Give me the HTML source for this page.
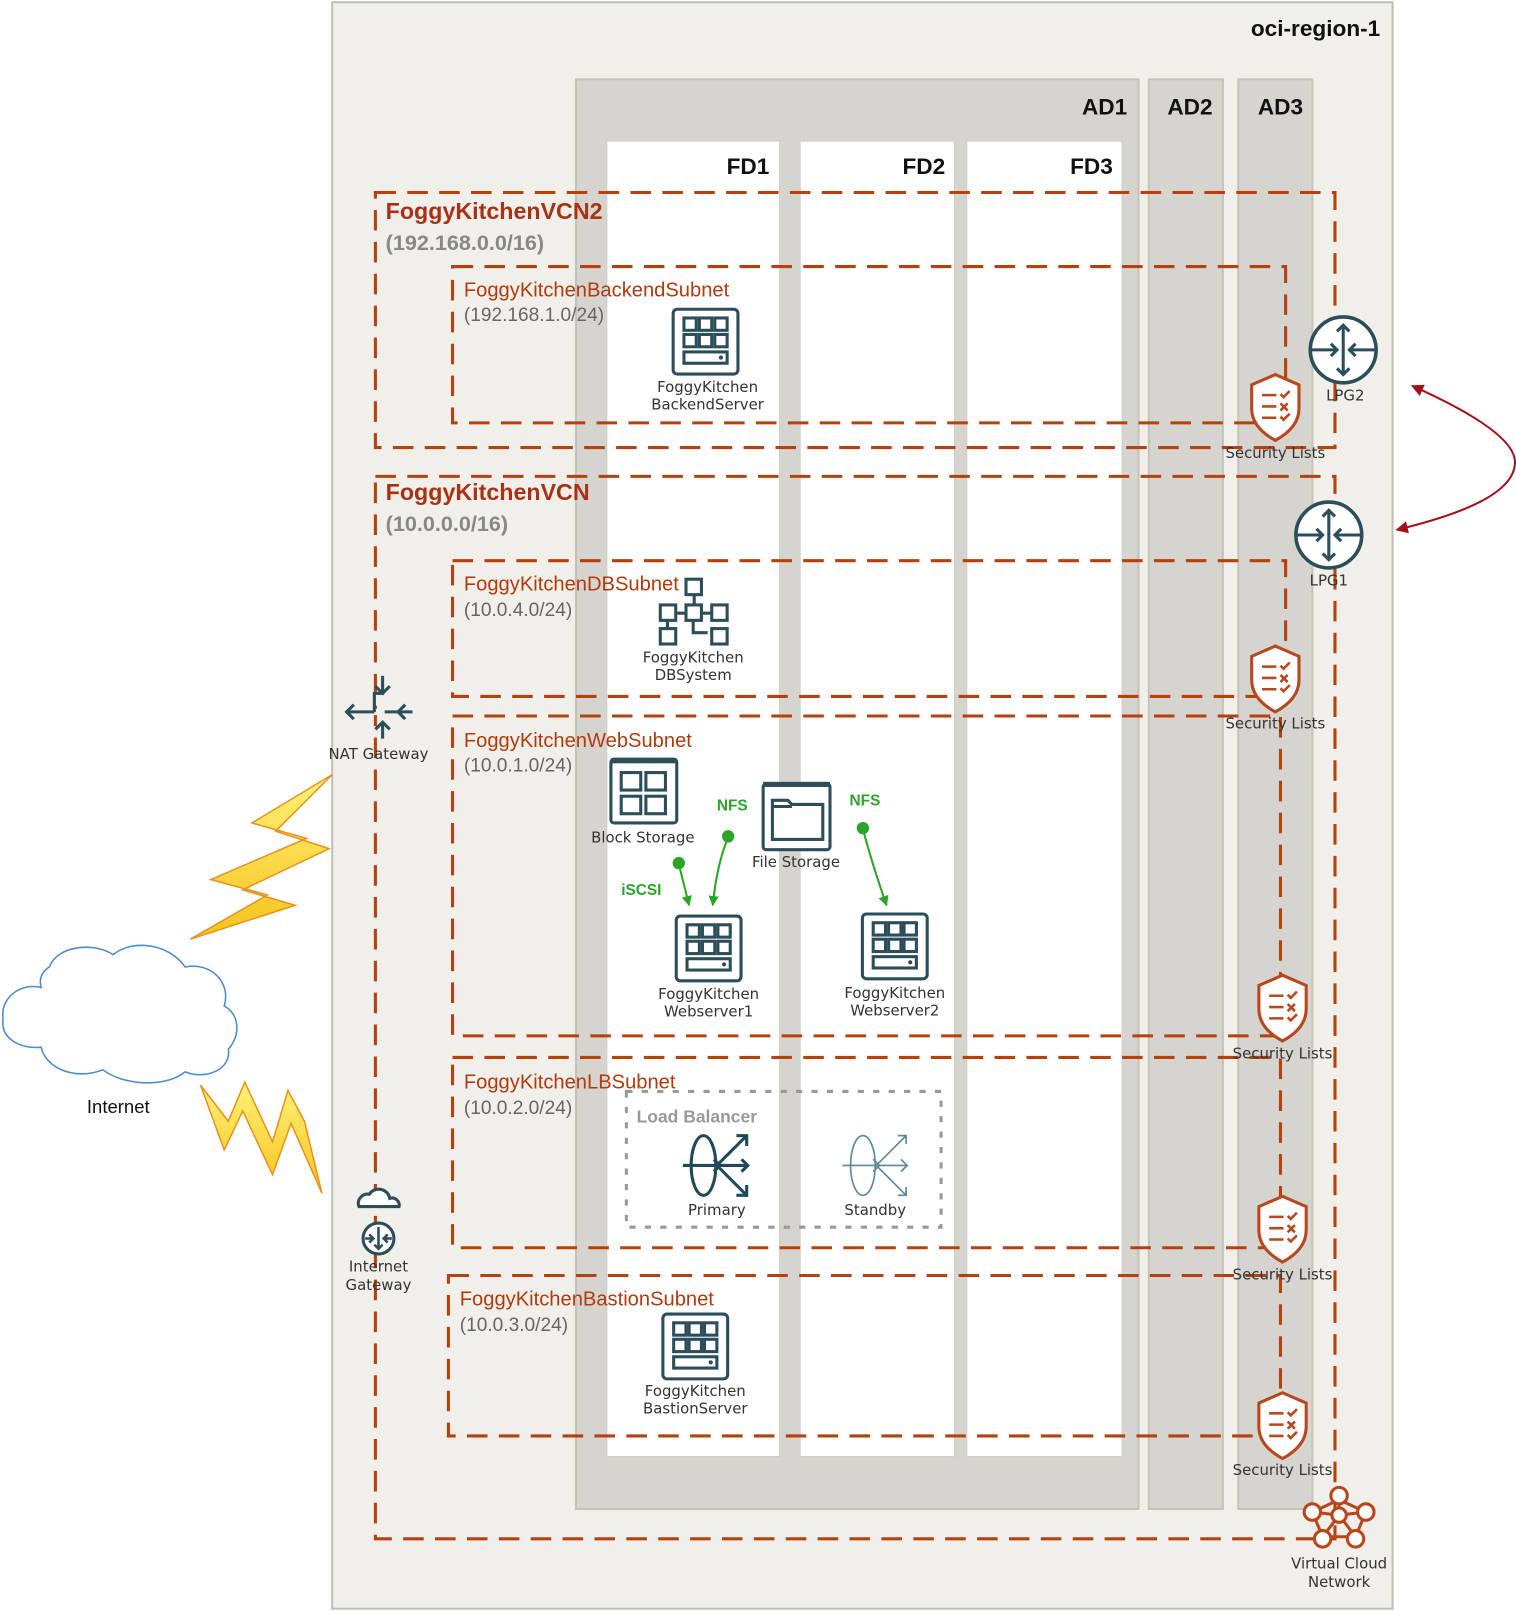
<!DOCTYPE html>
<html><head><meta charset="utf-8"><style>
html,body{margin:0;padding:0;background:#fff;}
svg{display:block;}
text{font-family:"Liberation Sans","DejaVu Sans",sans-serif;}
.lbl{font-family:"DejaVu Sans","Liberation Sans",sans-serif;font-size:14.5px;fill:#333;text-anchor:middle;}
.sub{font-size:19.6px;fill:#b33a0e;}
.cidr{font-size:18.6px;fill:#666;}
.vcn{font-size:22.6px;font-weight:bold;fill:#a93216;}
.vcnc{font-size:21px;font-weight:bold;fill:#888;}
.hd{font-size:22px;font-weight:bold;fill:#111;text-anchor:end;}
.dash{fill:none;stroke:#b5410f;stroke-width:3;stroke-dasharray:20 11;}
.grn{font-size:15px;font-weight:bold;fill:#2aa52a;}
</style></head><body>
<svg width="1516" height="1612" viewBox="0 0 1474 1567" xmlns="http://www.w3.org/2000/svg">
<defs>
<g id="srv">
<rect x="1.5" y="1.5" width="63" height="63" rx="4" fill="#fff" stroke="#2c4e5b" stroke-width="3"/>
<g fill="none" stroke="#2c4e5b" stroke-width="3">
<rect x="12" y="10" width="12" height="12"/><rect x="27" y="10" width="12" height="12"/><rect x="42" y="10" width="12" height="12"/>
<rect x="12" y="26" width="12" height="12"/><rect x="27" y="26" width="12" height="12"/><rect x="42" y="26" width="12" height="12"/>
<rect x="12" y="43" width="42" height="11"/></g>
<circle cx="48" cy="48.5" r="2" fill="#2c4e5b"/>
</g>
<g id="shield">
<path d="M25 2 L48 12 V35 C48 50 36 60 25 66 C14 60 2 50 2 35 V12 Z" fill="#fff" stroke="#b8471e" stroke-width="3"/>
<g stroke="#b8471e" stroke-width="2.5" fill="none">
<path d="M12 22h14M12 33h14M12 44h14"/>
<path d="M30 21l3 3 6-6M30 30l7 7M37 30l-7 7M30 43l3 3 6-6"/></g>
</g>
<g id="rtr">
<circle cx="0" cy="0" r="32" fill="#fff" stroke="#2c4e5b" stroke-width="3.5"/>
<g stroke="#2c4e5b" stroke-width="3" fill="none">
<path d="M-32 0h26M-12 -6l6 6-6 6M32 0h-26M12 -6l-6 6 6 6M0 -24v48M-6 -18l6-6 6 6M-6 18l6 6 6-6"/></g>
</g>
<marker id="ar" viewBox="0 0 10 10" refX="9" refY="5" markerWidth="6" markerHeight="6" orient="auto-start-reverse"><path d="M0 0L10 5L0 10z" fill="#a3101a"/></marker>
<marker id="ag" viewBox="0 0 10 10" refX="9" refY="5" markerWidth="5" markerHeight="6" orient="auto"><path d="M0 0L10 5L0 10z" fill="#2aa52a"/></marker>
<linearGradient id="ly" x1="0" y1="0" x2="0" y2="1"><stop offset="0" stop-color="#fff27a"/><stop offset="1" stop-color="#f6c21a"/></linearGradient>
</defs>

<rect x="323" y="2" width="1031" height="1562" fill="#f0efea" stroke="#c2beb7" stroke-width="2"/>
<text x="1342" y="35" class="hd">oci-region-1</text>
<rect x="560" y="77" width="547" height="1390" fill="#d6d4cf" stroke="#c6c2bb" stroke-width="2"/>
<rect x="1117" y="77" width="72" height="1390" fill="#d6d4cf" stroke="#c6c2bb" stroke-width="2"/>
<rect x="1204" y="77" width="72" height="1390" fill="#d6d4cf" stroke="#c6c2bb" stroke-width="2"/>
<text x="1096" y="111" class="hd">AD1</text>
<text x="1179" y="111" class="hd">AD2</text>
<text x="1267" y="111" class="hd">AD3</text>
<rect x="590" y="137" width="168" height="1279" fill="#fff" stroke="#d0cdc7"/>
<rect x="778" y="137" width="150" height="1279" fill="#fff" stroke="#d0cdc7"/>
<rect x="940" y="137" width="151" height="1279" fill="#fff" stroke="#d0cdc7"/>
<text x="748" y="169" class="hd">FD1</text>
<text x="919" y="169" class="hd">FD2</text>
<text x="1082" y="169" class="hd">FD3</text>

<rect x="365" y="187" width="933" height="248" class="dash"/>
<text x="375" y="213" class="vcn">FoggyKitchenVCN2</text>
<text x="375" y="243" class="vcnc">(192.168.0.0/16)</text>
<rect x="440" y="259" width="810" height="152" class="dash"/>
<text x="451" y="288" class="sub">FoggyKitchenBackendSubnet</text>
<text x="451" y="312" class="cidr">(192.168.1.0/24)</text>
<use href="#srv" x="653" y="299"/>
<text x="688" y="381" class="lbl">FoggyKitchen</text>
<text x="688" y="398" class="lbl">BackendServer</text>

<rect x="365" y="463" width="933" height="1033" class="dash"/>
<text x="375" y="486" class="vcn">FoggyKitchenVCN</text>
<text x="375" y="516" class="vcnc">(10.0.0.0/16)</text>

<rect x="440" y="545" width="810" height="132" class="dash"/>
<text x="451" y="574" class="sub">FoggyKitchenDBSubnet</text>
<text x="451" y="599" class="cidr">(10.0.4.0/24)</text>
<g stroke="#2c4e5b" stroke-width="3" fill="#fff">
<path d="M675 578v10M650 596h50" fill="none"/>
<path d="M649 603v8M674 603v12h14" fill="none"/>
<rect x="667" y="563" width="15" height="15"/>
<rect x="642" y="588" width="15" height="15"/>
<rect x="667" y="588" width="15" height="15"/>
<rect x="692" y="588" width="15" height="15"/>
<rect x="642" y="611" width="15" height="15"/>
<rect x="692" y="611" width="15" height="15"/>
</g>
<text x="674" y="644" class="lbl">FoggyKitchen</text>
<text x="674" y="661" class="lbl">DBSystem</text>

<rect x="440" y="696" width="805" height="311" class="dash"/>
<text x="451" y="726" class="sub">FoggyKitchenWebSubnet</text>
<text x="451" y="750" class="cidr">(10.0.1.0/24)</text>
<rect x="594" y="738" width="64" height="62" rx="3" fill="#fff" stroke="#2c4e5b" stroke-width="3"/>
<rect x="594" y="737" width="64" height="5" fill="#2c4e5b"/>
<g fill="none" stroke="#2c4e5b" stroke-width="3"><rect x="604" y="751" width="19" height="17"/><rect x="628" y="751" width="19" height="17"/><rect x="604" y="774" width="19" height="17"/><rect x="628" y="774" width="19" height="17"/></g>
<text x="625" y="819" class="lbl">Block Storage</text>
<rect x="742" y="762" width="65" height="64" rx="3" fill="#fff" stroke="#2c4e5b" stroke-width="3"/>
<rect x="742" y="760" width="65" height="5" fill="#2c4e5b"/>
<path d="M751 778h15l4 4h30v34h-49z M751 784h19" fill="none" stroke="#2c4e5b" stroke-width="3"/>
<text x="774" y="843" class="lbl">File Storage</text>
<text x="697" y="788" class="grn">NFS</text>
<text x="826" y="783" class="grn">NFS</text>
<text x="604" y="870" class="grn">iSCSI</text>
<g stroke="#2aa52a" stroke-width="2" fill="none">
<path d="M660 840 L670 880" marker-end="url(#ag)"/>
<path d="M708 814 Q697 840 693 880" marker-end="url(#ag)"/>
<path d="M839 806 Q848 840 862 880" marker-end="url(#ag)"/>
</g>
<g fill="#2aa52a"><circle cx="660" cy="839" r="6"/><circle cx="708" cy="813" r="6"/><circle cx="839" cy="805" r="6"/></g>
<use href="#srv" x="656" y="889"/>
<text x="689" y="971" class="lbl">FoggyKitchen</text>
<text x="689" y="988" class="lbl">Webserver1</text>
<use href="#srv" x="837" y="887"/>
<text x="870" y="970" class="lbl">FoggyKitchen</text>
<text x="870" y="987" class="lbl">Webserver2</text>

<rect x="440" y="1028" width="805" height="185" class="dash"/>
<text x="451" y="1058" class="sub">FoggyKitchenLBSubnet</text>
<text x="451" y="1083" class="cidr">(10.0.2.0/24)</text>
<rect x="609" y="1061" width="306" height="132" fill="none" stroke="#999" stroke-width="3" stroke-dasharray="6 9"/>
<text x="619" y="1091" style="font-size:17px;font-weight:bold;fill:#999">Load Balancer</text>
<g stroke="#1f4a5a" stroke-width="3" fill="none">
<ellipse cx="684" cy="1133" rx="12" ry="29"/>
<path d="M664 1133h36M694 1127l6 6-6 6M697 1133h30M721 1127l6 6-6 6M697 1133l29-29M716 1104h10v10M697 1133l29 29M716 1162h10v-10"/>
</g>
<g stroke="#5a8a98" stroke-width="1.6" fill="none">
<ellipse cx="839" cy="1133" rx="12" ry="29"/>
<path d="M819 1133h36M849 1127l6 6-6 6M852 1133h30M876 1127l6 6-6 6M852 1133l29-29M873 1104h8v8M852 1133l29 29M873 1162h8v-8"/>
</g>
<text x="697" y="1181" class="lbl">Primary</text>
<text x="851" y="1181" class="lbl">Standby</text>

<rect x="436" y="1240" width="809" height="156" class="dash"/>
<text x="447" y="1269" class="sub">FoggyKitchenBastionSubnet</text>
<text x="447" y="1294" class="cidr">(10.0.3.0/24)</text>
<use href="#srv" x="643" y="1276"/>
<text x="676" y="1357" class="lbl">FoggyKitchen</text>
<text x="676" y="1374" class="lbl">BastionServer</text>

<use href="#shield" x="1215" y="362"/><text x="1240" y="445" class="lbl">Security Lists</text>
<use href="#shield" x="1215" y="626"/><text x="1240" y="708" class="lbl">Security Lists</text>
<use href="#shield" x="1222" y="946"/><text x="1247" y="1029" class="lbl">Security Lists</text>
<use href="#shield" x="1222" y="1161"/><text x="1247" y="1244" class="lbl">Security Lists</text>
<use href="#shield" x="1222" y="1352"/><text x="1247" y="1434" class="lbl">Security Lists</text>

<use href="#rtr" x="1306" y="340"/><text x="1308" y="389" class="lbl">LPG2</text>
<use href="#rtr" x="1292" y="520"/><text x="1292" y="569" class="lbl">LPG1</text>
<path d="M1373 375 C1440 405 1474 430 1473 450 C1472 480 1420 500 1358 515" fill="none" stroke="#a3101a" stroke-width="2" marker-start="url(#ar)" marker-end="url(#ar)"/>

<g stroke="#f0efea" stroke-width="6" fill="none"><path d="M337 692h64M372 658v52"/></g>
<g stroke="#2c4e5b" stroke-width="3" fill="none">
<path d="M337 692h27M344 685l-7 7 7 7M401 692h-27M394 685l-7 7 7 7M372 702v16M365 709l7-7 7 7M372 657v17h-8v18M365 667l7 7 7-7"/>
</g>
<text x="368" y="738" class="lbl">NAT Gateway</text>
<path d="M349 1173 a9 9 0 0 1 10 -12 a11 11 0 0 1 20 4 a7 7 0 0 1 9 8 z" fill="#fff" stroke="#2c4e5b" stroke-width="3"/>
<circle cx="368" cy="1204" r="15" fill="#fff" stroke="#2c4e5b" stroke-width="3"/>
<path d="M355 1204h8M359 1200l4 4-4 4M381 1204h-8M377 1200l-4 4 4 4M368 1193v21M364 1210l4 4 4-4" fill="none" stroke="#2c4e5b" stroke-width="2.5"/>
<text x="368" y="1236" class="lbl">Internet</text>
<text x="368" y="1254" class="lbl">Gateway</text>

<g stroke="#b8471e" stroke-width="3" fill="#fff">
<path d="M1302 1458 L1328 1470 L1318 1494 L1286 1494 L1276 1470 Z M1302 1458V1473M1328 1470L1302 1473M1276 1470L1302 1473M1318 1494L1302 1473M1286 1494L1302 1473" fill="none"/>
<circle cx="1302" cy="1454" r="8"/><circle cx="1328" cy="1470" r="8"/><circle cx="1276" cy="1470" r="8"/>
<circle cx="1318" cy="1496" r="8"/><circle cx="1286" cy="1496" r="8"/><circle cx="1302" cy="1473" r="7"/>
</g>
<text x="1302" y="1525" class="lbl">Virtual Cloud</text>
<text x="1302" y="1543" class="lbl">Network</text>

<path d="M40 960 C20 955 0 970 3 990 C0 1010 20 1020 40 1018 C45 1040 75 1050 100 1040 C120 1055 160 1058 180 1042 C200 1050 225 1040 222 1020 C235 1005 232 985 218 978 C225 955 205 935 180 940 C165 918 130 912 110 928 C90 915 55 920 48 940 C40 945 38 952 40 960 Z" fill="#fff" stroke="#4a8ad0" stroke-width="1.5"/>
<text x="115" y="1082" style="font-size:18px;fill:#111;text-anchor:middle">Internet</text>
<path d="M323 753 L245 800 L298 815 L205 855 L260 870 L185 913 L287 880 L236 865 L320 825 L268 808 Z" fill="url(#ly)" stroke="#e8921e" stroke-width="1.5"/>
<path d="M195 1055 L218 1118 L236 1080 L265 1142 L283 1092 L313 1160 L296 1090 L280 1060 L265 1110 L238 1052 L222 1090 Z" fill="url(#ly)" stroke="#e8921e" stroke-width="1.5"/>
</svg>
</body></html>
